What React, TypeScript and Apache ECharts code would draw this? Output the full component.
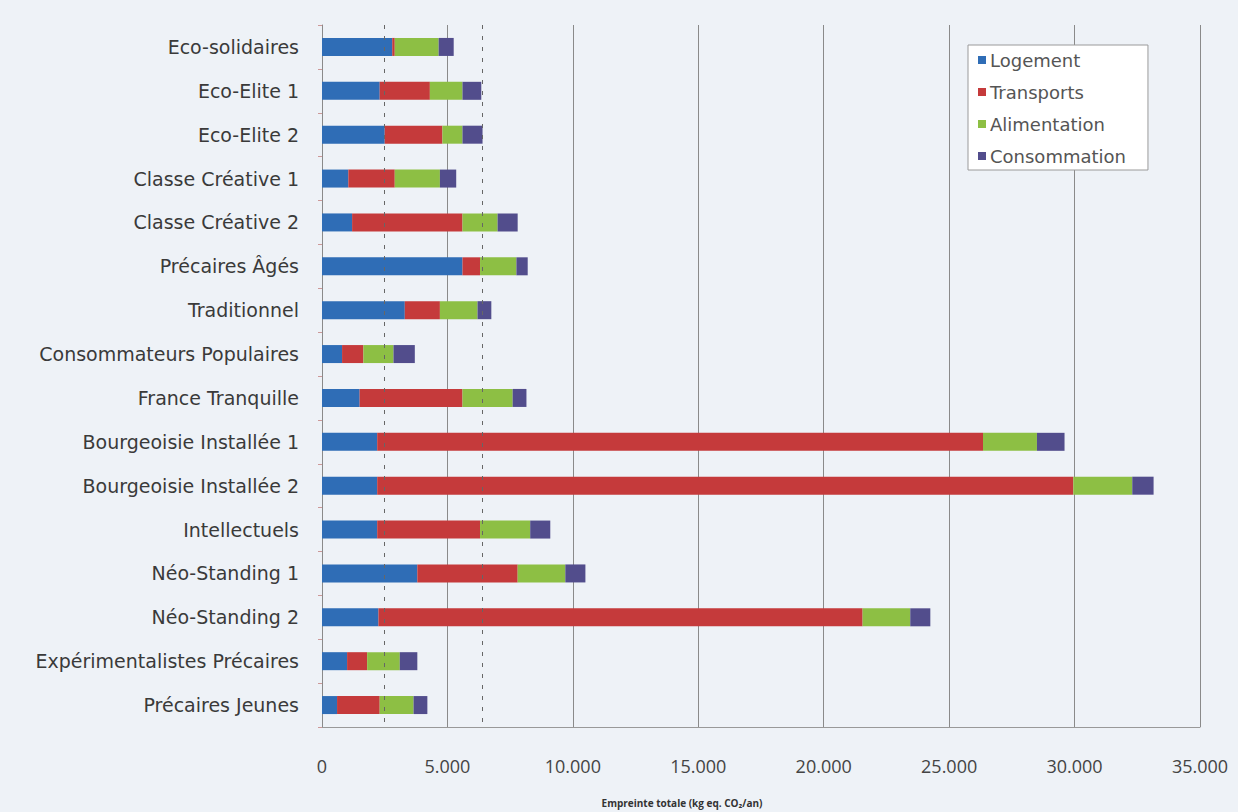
import React, { useEffect, useRef } from "react";
import * as echarts from "echarts";

const categories = [
  "Eco-solidaires",
  "Eco-Elite 1",
  "Eco-Elite 2",
  "Classe Créative 1",
  "Classe Créative 2",
  "Précaires Âgés",
  "Traditionnel",
  "Consommateurs Populaires",
  "France Tranquille",
  "Bourgeoisie Installée 1",
  "Bourgeoisie Installée 2",
  "Intellectuels",
  "Néo-Standing 1",
  "Néo-Standing 2",
  "Expérimentalistes Précaires",
  "Précaires Jeunes",
];

const seriesNames = ["Logement", "Transports", "Alimentation", "Consommation"];

const logement = [2800, 2300, 2500, 1050, 1200, 5600, 3300, 800, 1500, 2200, 2200, 2200, 3800, 2250, 1000, 600];
const transports = [100, 2000, 2300, 1850, 4400, 700, 1400, 850, 4100, 24150, 27750, 4100, 4000, 19300, 800, 1700];
const alimentation = [1750, 1300, 800, 1800, 1400, 1450, 1500, 1200, 2000, 2150, 2350, 2000, 1900, 1900, 1300, 1350];
const consommation = [600, 750, 800, 650, 800, 450, 550, 850, 550, 1100, 850, 800, 800, 800, 700, 550];

const referenceLines = [2500, 6400];

const xTicks = { min: 0, max: 35000, interval: 5000 };

const colors = ["#2f6db6", "#c53a3b", "#8dbf44", "#524d8c"];

const labelFont = "'DejaVu Sans', Verdana, sans-serif";
const tickFont = "'Open Sans', sans-serif";

function fmt(v: number): string {
  return String(v).replace(/\B(?=(\d{3})+(?!\d))/g, ".");
}

export default function App() {
  const ref = useRef<HTMLDivElement>(null);

  useEffect(() => {
    if (!ref.current) return;
    const chart = echarts.init(ref.current, undefined, { renderer: "svg" });
    const values = [logement, transports, alimentation, consommation];
    const series: any[] = seriesNames.map((name, i) => ({
      name,
      type: "bar",
      stack: "total",
      barWidth: 18,
      data: values[i],
      itemStyle: { color: colors[i] },
      ...(i === 0
        ? {
            markLine: {
              silent: true,
              symbol: "none",
              label: { show: false },
              lineStyle: { color: "#666", type: [4, 7], width: 1 },
              data: referenceLines.map((v) => ({ xAxis: v })),
            },
          }
        : {}),
    }));

    chart.setOption({
      animation: false,
      backgroundColor: "#eef2f7",
      color: colors,
      title: {
        text: "Empreinte totale (kg eq. CO₂/an)",
        left: 677,
        top: 793,
        textAlign: "center",
        textStyle: { fontFamily: tickFont, fontSize: 10, fontWeight: "bold", color: "#333" },
      },
      legend: {
        orient: "vertical",
        left: 968,
        top: 45,
        itemWidth: 8,
        itemHeight: 8,
        itemGap: 14,
        padding: [6, 22, 5, 10],
        backgroundColor: "#ffffff",
        borderColor: "#9a9a9a",
        borderWidth: 1,
        icon: "rect",
        data: seriesNames,
        textStyle: { fontFamily: labelFont, fontSize: 18, color: "#555", padding: [0, 0, 0, -1] },
      },
      grid: { left: 322, right: 38, top: 25, bottom: 85, containLabel: false },
      xAxis: {
        type: "value",
        min: xTicks.min,
        max: xTicks.max,
        interval: xTicks.interval,
        axisLine: { show: true, lineStyle: { color: "#999" } },
        axisTick: { show: false },
        splitLine: { show: true, lineStyle: { color: "#8a8a8a", width: 1 } },
        axisLabel: {
          margin: 30,
          fontFamily: tickFont,
          fontSize: 18,
          color: "#444",
          formatter: (v: number) => fmt(v),
        },
      },
      yAxis: {
        type: "category",
        inverse: true,
        data: categories,
        axisLine: { show: true, lineStyle: { color: "#8a8a8a" } },
        axisTick: { show: true, length: 4, lineStyle: { color: "#c99" } },
        axisLabel: { margin: 23, fontFamily: labelFont, fontSize: 19, color: "#3a3a3a" },
      },
      series,
    });
    return () => chart.dispose();
  }, []);

  return <div ref={ref} style={{ position: "fixed", left: 0, top: 0, width: 1238, height: 812 }} />;
}
